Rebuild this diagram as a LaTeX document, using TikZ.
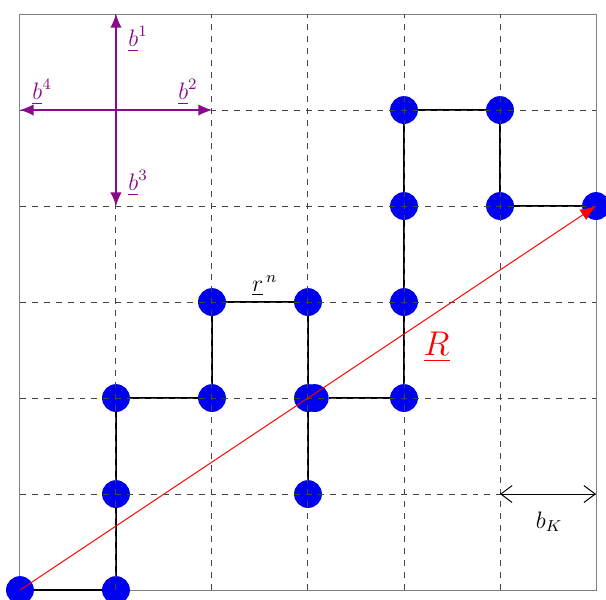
\documentclass[tikz,border=0pt]{standalone}
\usepackage{amsmath,amssymb}
\usetikzlibrary{arrows.meta, positioning}
\definecolor{siteblue}{HTML}{0000F0}
\definecolor{dirpurple}{HTML}{8B0A8B}
\definecolor{gridgray}{HTML}{444444}

\begin{document}
\begin{tikzpicture}[
    x=1.7cm, y=1.7cm,
    site/.style={circle, fill=siteblue, minimum size=0.29*1.7cm, inner sep=0pt},
    walk/.style={black, line width=1.3pt},
    lattice/.style={gridgray, dashed, line width=0.5pt},
    basis/.style={dirpurple, line width=0.6pt, -{Latex[length=2.4mm, width=2mm]}},
    dirlabel/.style={text=dirpurple, font=\large, inner sep=0pt},
  ]
  \useasboundingbox (-0.208,-0.094) rectangle (6.104,6.146);

  % ===== Frame =====
  \draw[gray, line width=0.5pt] (0,0) rectangle (6,6);

  % ===== Sites of the walk =====
  \foreach \x/\y in {0/0, 1/0, 1/1, 1/2, 2/2, 2/3, 3/3, 3/2, 3/1,
                     4/2, 4/3, 4/4, 4/5, 5/5, 5/4, 6/4}
    \node[site] (p\x\y) at (\x,\y) {};
  \node[site] (q32) at (3.07,2) {};

  % Steps of the walk
  \draw[walk] (p00) -- (p10) -- (p11) -- (p12) -- (p22) -- (p23) -- (p33)
    -- (p32) -- (p31);
  \draw[walk] (q32) -- (p42) -- (p43) -- (p44) -- (p45) -- (p55) -- (p54)
    -- (p64);

  % ===== Lattice =====
  \foreach \i in {1,...,5} {
    \draw[lattice] (\i,0) -- (\i,6);
    \draw[lattice] (0,\i) -- (6,\i);
  }

  % ===== Unit directions =====
  \coordinate (o) at (1,5);
  \coordinate (e1) at (1,6);
  \coordinate (e2) at (2,5);
  \coordinate (e3) at (1,4);
  \coordinate (e4) at (0,5);
  \draw[basis] (o) -- (e1);
  \draw[basis] (o) -- (e2);
  \draw[basis] (o) -- (e3);
  \draw[basis] (o) -- (e4);
  \node[dirlabel] (l1) at (1.23,5.74) {$\underline{b}^1$};
  \node[dirlabel] (l2) at (1.75,5.19) {$\underline{b}^2$};
  \node[dirlabel] (l3) at (1.23,4.24) {$\underline{b}^3$};
  \node[dirlabel] (l4) at (0.23,5.19) {$\underline{b}^4$};

  % ===== Step label =====
  \node[font=\large, inner sep=0pt] (rn) at (2.55,3.17) {$\underline{r}^{\,n}$};

  % ===== End-to-end vector =====
  \draw[red, line width=0.5pt, -{Latex[length=2.8mm, width=2.2mm]}]
    (p00.center) -- (p64.center);
  \node[red, font=\LARGE, inner sep=0pt] (rlab) at (4.34,2.53) {$\underline{R}$};

  % ===== Lattice spacing =====
  \coordinate (k0) at (5,1);
  \coordinate (k1) at (6,1);
  \draw[{Straight Barb[length=2mm, width=3mm]}-{Straight Barb[length=2mm, width=3mm]},
    black, line width=0.5pt] (k0) -- (k1);
  \node[font=\large, inner sep=0pt] (bk) at (5.51,0.71) {$b_K$};

\end{tikzpicture}
\end{document}
